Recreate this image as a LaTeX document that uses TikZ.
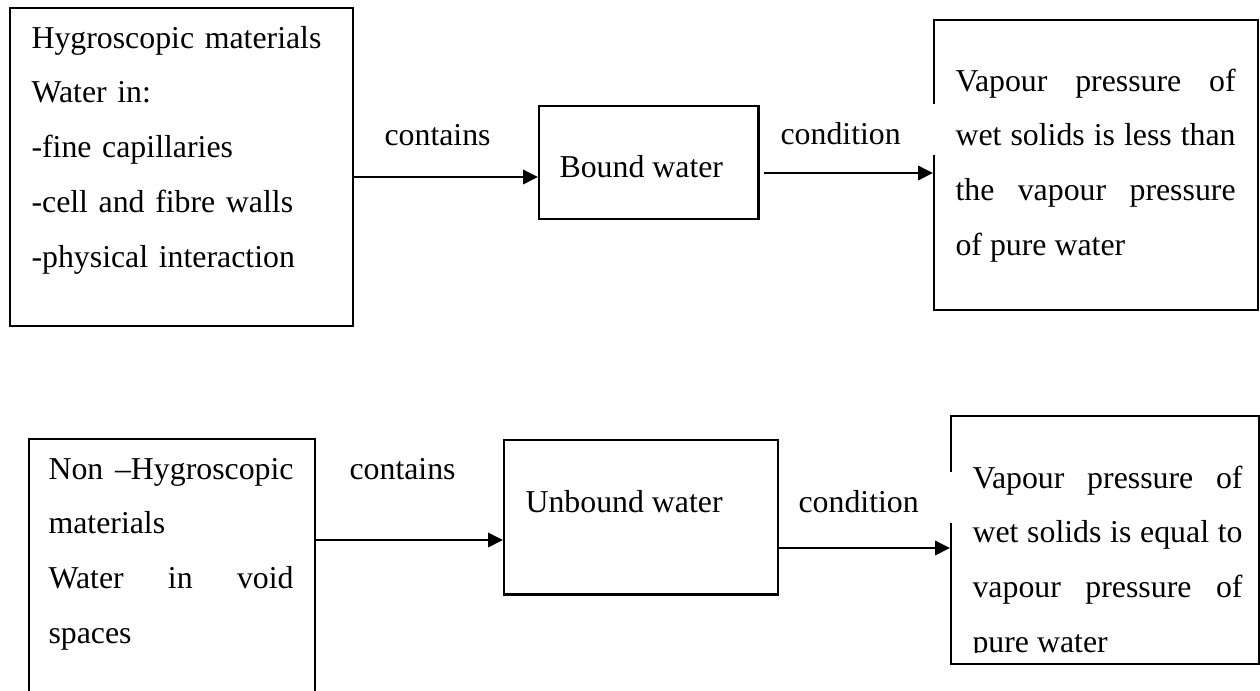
\documentclass[tikz,border=0pt]{standalone}
\usepackage{fontspec}
\setmainfont{Liberation Serif}
\usetikzlibrary{arrows.meta, positioning, calc}

\begin{document}
\begin{tikzpicture}[x=0.377pt, y=-0.377pt,
    box/.style={rectangle, draw, line width=0.9pt, inner sep=0pt, anchor=north west},
    txt/.style={inner sep=0pt, anchor=base west, font=\fontsize{12}{20.7}\selectfont},
    flow/.style={-{Triangle[length=5.6pt, width=5.3pt]}, line width=1.1pt}]
    \useasboundingbox (0,0) rectangle (1260,690);
    \clip (0,0) rectangle (1260,690);

    % Hygroscopic row
    \node (hygro) [box, minimum width=129.3pt, minimum height=119.9pt] at (9,7) {};
    \node (hygrotext) [txt, text width=120pt, align=left] at (31,48) {Hygroscopic materials\\Water in:\\-fine capillaries\\-cell and fibre walls\\-physical interaction};
    \node (bound) [box, minimum width=82.6pt, minimum height=42.6pt] at (538,105) {};
    \node (boundtext) [txt] at (559,177) {Bound water};
    \node (lessvp) [box, minimum width=122.1pt, minimum height=109.3pt] at (933,19) {};
    \node (lesstext) [txt, text width=105.6pt, align=justify] at (955,91) {Vapour pressure of\linebreak wet solids is less than\linebreak the vapour pressure\linebreak of pure water};
    \node (contains1) [txt] at (384,145) {contains};
    \node (cond1) [txt] at (780,144) {condition};
    \draw[flow] (hygro.east |- 0,177) -- (bound.west |- 0,177);
    \draw[flow] ($(bound.east |- 0,173)+(4,0)$) -- (lessvp.west |- 0,173);
    \draw[white, line width=1.3pt] (lessvp.west |- 0,104) -- (lessvp.west |- 0,155);

    % Non-hygroscopic row
    \node (nonhygro) [box, minimum width=107.8pt, minimum height=106.3pt] at (28,438) {};
    \node (nonhygrotext) [txt, text width=92.4pt, align=justify] at (48,479) {Non --Hygroscopic\linebreak materials\par Water in void\linebreak spaces};
    \node (unbound) [box, minimum width=103.3pt, minimum height=58.1pt] at (503,439) {};
    \node (unboundtext) [txt] at (525,512) {Unbound water};
    \node (equalvp) [box, minimum width=116.1pt, minimum height=93.5pt] at (950,415) {};
    \begin{scope}
        \clip (950,415) rectangle (1258,652);
        \node (equaltext) [txt, text width=101.8pt, align=justify] at (972,488) {Vapour pressure of\linebreak wet solids is equal to\linebreak vapour pressure of\linebreak pure water};
    \end{scope}
    \node (contains2) [txt] at (349,479) {contains};
    \node (cond2) [txt] at (798,512) {condition};
    \draw[flow] (nonhygro.east |- 0,540) -- (unbound.west |- 0,540);
    \draw[flow] (unbound.east |- 0,548) -- (equalvp.west |- 0,548);
    \draw[white, line width=1.3pt] (equalvp.west |- 0,472) -- (equalvp.west |- 0,523);
\end{tikzpicture}
\end{document}
